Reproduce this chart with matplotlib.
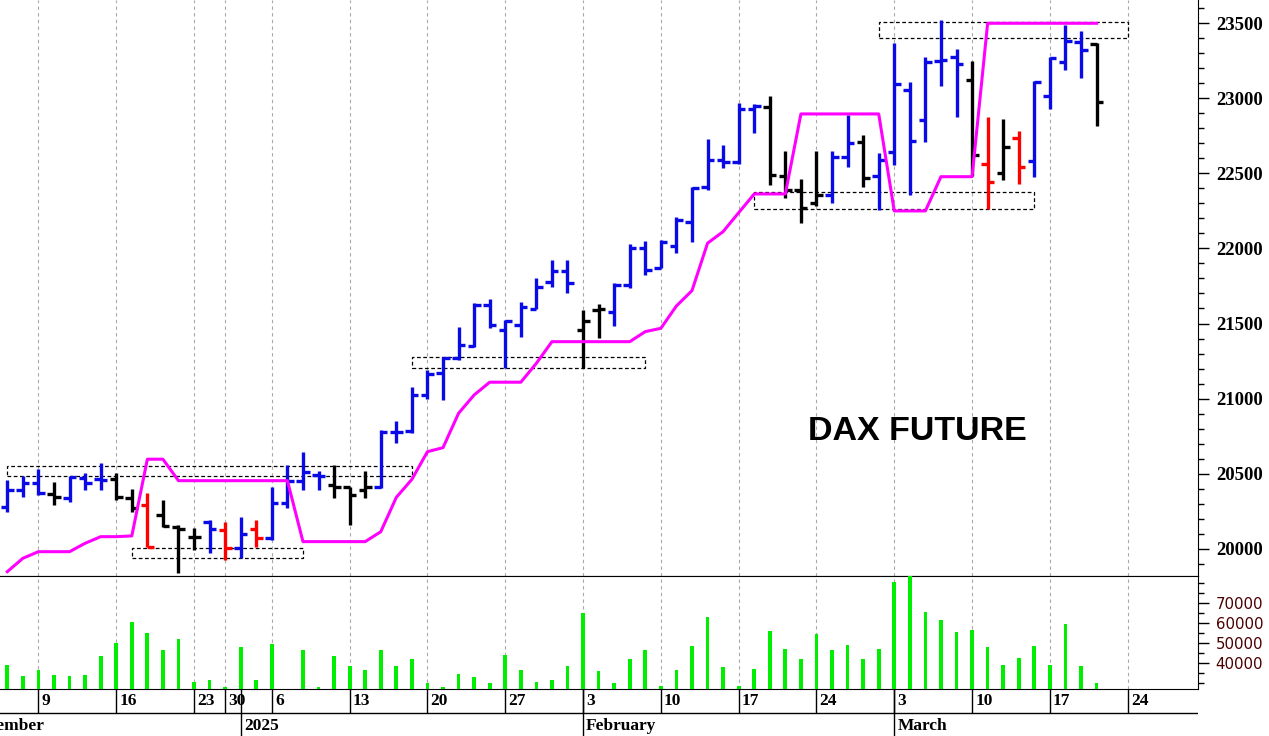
import matplotlib
matplotlib.use("Agg")
import matplotlib.pyplot as plt
from matplotlib.patches import Rectangle
from matplotlib.ticker import MultipleLocator, FixedLocator

# ---------------------------------------------------------------
# Daily DAX future bars, 5 Dec 2024 .. 20 Mar 2025 (trading days)
# ---------------------------------------------------------------
opens = [20280, 20391, 20436, 20362, 20336, 20470, 20462, 20462, 20336, 20291,
         20224, 20143, 20080, 20180, 20125, 20003, 20129, 20069, 20302, 20453,
         20491, 20424, 20409, 20391, 20409, 20779, 20785, 21024, 21173, 21268,
         21352, 21624, 21457, 21490, 21595, 21779, 21852, 21457, 21590, 21579,
         21757, 22001, 21868, 22017, 22178, 22412, 22589, 22578, 22927, 22945,
         22483, 22390, 22305, 22356, 22607, 22711, 22485, 22645, 23056, 22856,
         23249, 23274, 23122, 22561, 22505, 22734, 22585, 23016, 23244, 23378,
         23360]
highs = [20458, 20484, 20529, 20446, 20484, 20506, 20569, 20506, 20396, 20369,
         20324, 20158, 20136, 20191, 20180, 20209, 20191, 20413, 20558, 20646,
         20519, 20558, 20409, 20520, 20791, 20853, 21075, 21191, 21275, 21475,
         21635, 21661, 21524, 21645, 21801, 21923, 21923, 21590, 21630, 21772,
         22030, 22052, 22057, 22212, 22412, 22727, 22689, 22967, 22963, 23016,
         22652, 22461, 22652, 22652, 22890, 22756, 22634, 23367, 23111, 23278,
         23522, 23327, 23251, 22874, 22861, 22785, 23118, 23278, 23489, 23451,
         23367]
lows = [20246, 20346, 20358, 20291, 20313, 20391, 20391, 20324, 20246, 20009,
        20147, 19836, 19991, 19969, 19925, 19936, 20009, 20058, 20269, 20391,
        20391, 20336, 20158, 20336, 20402, 20706, 20769, 20996, 20991, 21257,
        21346, 21468, 21202, 21408, 21595, 21745, 21705, 21202, 21402, 21484,
        21735, 21823, 21868, 21972, 22045, 22390, 22534, 22563, 22771, 22423,
        22334, 22172, 22283, 22301, 22545, 22412, 22256, 22556, 22356, 22711,
        23082, 22874, 22483, 22263, 22456, 22430, 22478, 22929, 23189, 23134,
        22816]
closes = [20391, 20436, 20369, 20342, 20476, 20436, 20458, 20346, 20269, 20013,
          20151, 20129, 20076, 20129, 20003, 20098, 20069, 20302, 20453, 20509,
          20486, 20409, 20358, 20409, 20779, 20779, 21024, 21164, 21268, 21357,
          21624, 21490, 21519, 21608, 21741, 21852, 21768, 21519, 21595, 21757,
          22001, 21857, 22045, 22190, 22401, 22589, 22578, 22927, 22949, 22489,
          22390, 22268, 22356, 22607, 22705, 22467, 22589, 23098, 22718, 23244,
          23256, 23229, 22623, 22445, 22678, 22545, 23111, 23271, 23384, 23322,
          22975]
# bar signal: u = up (blue), n = neutral (black), d = down (red)
signal = (list("uuunuuunndnnnududuuuunnn")   # Dec 5 .. Jan 14
          + list("uuuuuuuuuuuuu")            # Jan 15 .. Jan 31
          + list("nnuuuuuuuuuu")             # Feb 3 .. Feb 18
          + list("nnnnuunu")                 # Feb 19 .. Feb 28
          + list("uuuuundnduuuun"))          # Mar 3 .. Mar 20
# trailing stop line (magenta)
stop_line = [19847, 19936, 19980, 19980, 19980, 20036, 20080, 20080, 20085, 20596,
             20596, 20453, 20453, 20453, 20453, 20453, 20453, 20453, 20453, 20047,
             20047, 20047, 20047, 20047, 20113, 20342, 20462, 20646, 20673, 20902,
             21024, 21109, 21109, 21109, 21235, 21379, 21379, 21379, 21379, 21379,
             21379, 21446, 21468, 21617, 21719, 22035, 22112, 22238, 22363, 22363,
             22363, 22896, 22896, 22896, 22896, 22896, 22896, 22250, 22250, 22250,
             22478, 22478, 22478, 23500, 23500, 23500, 23500, 23500, 23500, 23500,
             23500]
volume = [39150, 33650, 36650, 34150, 33650, 34150, 43650, 50300, 60800, 55300,
          46650, 52150, 30650, 31650, 28000, 48000, 31650, 49500, 27300, 46450,
          28000, 43650, 38650, 36650, 46650, 38650, 42150, 30000, 28000, 34800,
          33300, 30000, 44150, 36650, 30800, 31650, 38650, 65300, 36100, 30000,
          42000, 46600, 28650, 36650, 48650, 63100, 38300, 28650, 37000, 56300,
          47000, 42000, 54500, 46650, 49150, 42000, 47000, 80500, 84500, 65500,
          61650, 55500, 56650, 48000, 39150, 42800, 48650, 39150, 59500, 38650,
          30000]

# dashed congestion zones: start bar, end bar, low, high
zone_start = [0, 8, 26, 48, 56]
zone_end = [26, 19, 41, 66, 72]
zone_low = [20481, 19937, 21203, 22266, 23399]
zone_high = [20551, 20005, 21279, 22373, 23507]

# weekly (Monday) date labels and month labels, as bar indices
week_idx = [2, 7, 12, 14, 17, 22, 27, 32, 37, 42, 47, 52, 57, 62, 67, 72]
week_lbl = ["9", "16", "23", "30", "6", "13", "20", "27",
            "3", "10", "17", "24", "3", "10", "17", "24"]
month_idx = [-3, 15, 37, 57]
month_lbl = ["December", "2025", "February", "March"]

COLORS = {"u": "#0a0ae6", "n": "#000000", "d": "#ff0000"}
SERIF = "Liberation Serif"

W, H = 1269, 736
fig = plt.figure(figsize=(W / 100, H / 100), dpi=100)
right = 1197.7 / W
ax = fig.add_axes([0, (H - 576.3) / H, right, 576.3 / H])
axv = fig.add_axes([0, (H - 688.7) / H, right, (688.7 - 576.3) / H])
axd = fig.add_axes([0, 0, right, (H - 688.7) / H])

xlim = (-0.47, 76.5)
x = list(range(len(opens)))
cols = [COLORS[s] for s in signal]

# ---------------- price panel ----------------
for i0, i1, lo, hi in zip(zone_start, zone_end, zone_low, zone_high):
    ax.add_patch(Rectangle((i0, lo), i1 - i0, hi - lo, fill=False, ec="black",
                           lw=0.9, ls=(0, (3, 2)), zorder=2))

ax.vlines(x, lows, highs, colors=cols, lw=2.4, zorder=3)
ax.hlines(opens, [v - 0.42 for v in x], x, colors=cols, lw=2.4, zorder=3)
ax.hlines(closes, x, [v + 0.42 for v in x], colors=cols, lw=2.4, zorder=3)
ax.plot(x, stop_line, color="#ff00ff", lw=2.2, zorder=4)

ax.text(0.7656, 0.2504, "DAX FUTURE", transform=ax.transAxes, ha="center",
        va="center", fontsize=24.5, fontweight="bold", family="Liberation Sans")

ax.set_xlim(*xlim)
ax.set_ylim(19816, 23655)
ax.set_xticks(week_idx)
ax.tick_params(axis="x", length=0, labelbottom=False)
ax.grid(axis="x", color="#a8a8a8", lw=0.8, ls=(0, (3, 3)))
ax.yaxis.tick_right()
ax.yaxis.set_major_locator(MultipleLocator(500))
ax.yaxis.set_minor_locator(MultipleLocator(100))
ax.tick_params(axis="y", which="major", length=8, width=1, pad=5, labelsize=13.5)
ax.tick_params(axis="y", which="minor", length=4, width=1)
for lbl in ax.get_yticklabels():
    lbl.set_family(SERIF)
    lbl.set_fontweight("bold")
for s in ("top", "left"):
    ax.spines[s].set_visible(False)

# ---------------- volume panel ----------------
axv.bar(x, volume, width=0.24, color="#00ee00", zorder=3)
axv.set_xlim(*xlim)
axv.set_ylim(27300, 83500)
axv.set_xticks(week_idx)
axv.tick_params(axis="x", length=0, labelbottom=False)
axv.grid(axis="x", color="#a8a8a8", lw=0.8, ls=(0, (3, 3)))
axv.yaxis.tick_right()
axv.set_yticks([40000, 50000, 60000, 70000])
axv.yaxis.set_minor_locator(FixedLocator([30000, 35000, 45000, 55000, 65000, 75000, 80000]))
axv.tick_params(axis="y", which="major", length=8, width=1, pad=5, labelsize=10.8,
                labelcolor="#4a0000")
axv.tick_params(axis="y", which="minor", length=4, width=1)
axv.spines["left"].set_visible(False)
axv.spines["top"].set_color("black")

# ---------------- date rows ----------------
axd.set_xlim(*xlim)
axd.set_ylim(0, 1)
axd.axis("off")
axd.axhline(0.48, color="black", lw=1)
axd.vlines(week_idx, 0.48, 1, color="black", lw=1)
axd.vlines(month_idx, 0, 1, color="black", lw=1)
for i, t in zip(week_idx, week_lbl):
    axd.text(i + 0.2, 0.74, t, ha="left", va="center", fontsize=12.5,
             family=SERIF, fontweight="bold", clip_on=True)
for i, t in zip(month_idx, month_lbl):
    # the December label starts before the visible range, as in a scrolled chart
    off = 0.5 if i < 0 else 0.2
    axd.text(i + off, 0.22, t, ha="left", va="center", fontsize=12.5,
             family=SERIF, fontweight="bold", clip_on=True)

fig.savefig("out.png", dpi=100)
